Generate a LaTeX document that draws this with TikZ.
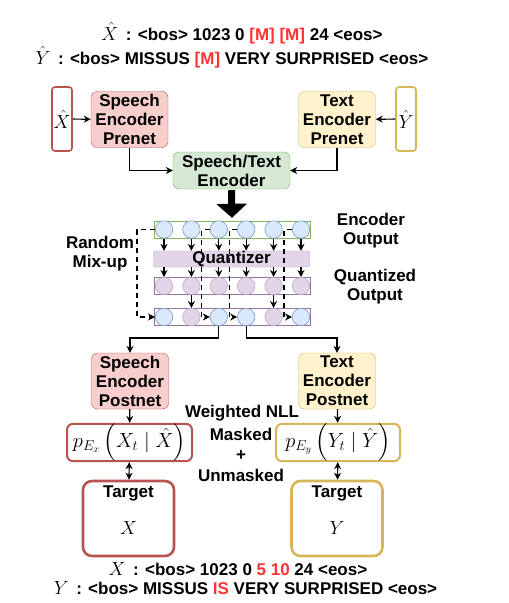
\RequirePackage{fix-cm}
\documentclass[tikz,border=0pt]{standalone}
\usepackage{amsmath}
\usepackage{fontspec}
\setmainfont{Liberation Sans}
\usetikzlibrary{positioning,arrows.meta}

\definecolor{redfill}{HTML}{F8CECC}
\definecolor{redline}{HTML}{B85450}
\definecolor{yelfill}{HTML}{FFF2CC}
\definecolor{yelline}{HTML}{D6B656}
\definecolor{grnfill}{HTML}{D5E8D4}
\definecolor{grnline}{HTML}{82B366}
\definecolor{blufill}{HTML}{DAE8FC}
\definecolor{bluline}{HTML}{6C8EBF}
\definecolor{purfill}{HTML}{E1D5E7}
\definecolor{purline}{HTML}{9673A6}
\definecolor{tokred}{HTML}{FF3333}

\newcommand{\mathbig}[1]{{\fontsize{19}{22}\selectfont$#1$}}
\newcommand{\mathprob}[1]{{\fontsize{20.5}{24}\selectfont$#1$}}

\tikzset{
  lbl/.style={font=\bfseries\fontsize{17}{19}\selectfont},
  block/.style={lbl, draw, rounded corners=6pt, align=center, minimum width=77pt,
    minimum height=56pt, inner sep=1pt},
  inbox/.style={draw, rounded corners=3pt, line width=1.6pt, minimum width=20pt,
    minimum height=64pt, inner sep=0pt},
  rowbox/.style={draw, minimum width=156pt, minimum height=17pt, inner sep=0pt},
  cblue/.style={circle, draw=bluline, fill=blufill, minimum size=17.5pt, inner sep=0pt, line width=0.5pt},
  cpurple/.style={circle, draw=purline!70, fill=purfill, minimum size=17.5pt, inner sep=0pt, line width=0.5pt},
  probbox/.style={draw, rounded corners=6pt, line width=2pt, minimum height=33pt, inner sep=0pt},
  targetbox/.style={draw, rounded corners=9pt, line width=2.6pt, minimum width=91pt, minimum height=75pt},
  conn/.style={line width=1.2pt, ->},
  mixline/.style={conn, dash pattern=on 5pt off 4pt},
}

\begin{document}
\begin{tikzpicture}[x=1pt, y=-1pt, >={Stealth[length=7pt,width=7pt]}]
\useasboundingbox (0,0) rectangle (509,603);

% masked inputs
\node[lbl] (xin) at (242,33) {\mathbig{\hat{X}}\, : <bos> 1023 0 \textcolor{tokred}{[M] [M]} 24 <eos>};
\node[lbl] (yin) at (232,57) {\mathbig{\hat{Y}}\, : <bos> MISSUS \textcolor{tokred}{[M]} VERY SURPRISED <eos>};

% prenets
\node[inbox, draw=redline] (xhat) at (62,119) {\mathbig{\hat{X}}};
\node[block, fill=redfill, draw=redline] (spre) at (129.5,119.5) {Speech\\Encoder\\Prenet};
\node[block, fill=yelfill, draw=yelline] (tpre) at (337,119.5) {Text\\Encoder\\Prenet};
\node[inbox, draw=yelline] (yhat) at (406,119) {\mathbig{\hat{Y}}};
\node[block, fill=grnfill, draw=grnline, minimum width=117pt, minimum height=37pt] (enc) at (231.5,170.5) {Speech/Text\\Encoder};

\draw[conn] (xhat) -- (spre);
\draw[conn] (yhat) -- (tpre);
\draw[conn] (spre.south) |- (enc.west);
\draw[conn] (tpre.south) |- (enc.east);

% rows of units
\node[rowbox, draw=grnline] (eo) at (232,229.5) {};
\node[lbl, rowbox, draw=purline!70, fill=purfill, minimum height=16pt, rounded corners=2pt] (quant) at (231.5,259) {Quantizer};
\node[rowbox, draw=purline, line width=0.8pt] (qo) at (232,286) {};
\node[rowbox, draw=purline, line width=0.8pt] (mo) at (232,317) {};

\draw[line width=7pt, -{Triangle[width=30pt,length=14pt]}] ([yshift=-1pt]enc.south) -- ([yshift=3pt]eo.north);

\foreach \i in {1,...,6} {
  \node[cblue] (e\i) at (136.6+27.4*\i,229.5) {};
  \node[cpurple] (q\i) at (136.6+27.4*\i,286) {};
  \draw[conn] (e\i.south) -- (e\i.south |- quant.north);
  \draw[conn] (q\i |- quant.south) -- (q\i.north);
}
\foreach \i/\c in {1/cblue,2/cpurple,3/cblue,4/cblue,5/cpurple,6/cblue}
  \node[\c] (m\i) at (136.6+27.4*\i,317) {};

\draw[conn] (q2.south) -- (m2.north);
\draw[conn] (q5.south) -- (m5.north);

% random mix-up
\foreach \i/\d in {1/18,3/8,4/8,6/8}
  \draw[mixline] (e\i.west) -- ++(-\d,0) |- (m\i.west);
\node[lbl, align=center] (mix) at (100,254) {Random\\Mix-up};
\node[lbl, align=center] (eolbl) at (371,231) {Encoder\\Output};
\node[lbl, align=center] (qolbl) at (375,287) {Quantized\\Output};

% postnets
\node[block, fill=redfill, draw=redline] (spost) at (130,381) {Speech\\Encoder\\Postnet};
\node[block, fill=yelfill, draw=yelline] (tpost) at (337,381) {Text\\Encoder\\Postnet};
\draw[conn] (m3.south) -- ++(0,12) -| (spost.north);
\draw[conn] (m4.south) -- ++(0,12) -| (tpost.north);

\node[probbox, draw=redline, minimum width=125pt] (px) at (129.5,442.5) {\mathprob{p_{E_x}\left(X_t \mid \hat{X}\right)}};
\node[probbox, draw=yelline, minimum width=124pt] (py) at (338,442.5) {\mathprob{p_{E_y}\left(Y_t \mid \hat{Y}\right)}};
\draw[conn] (spost) -- (px);
\draw[conn] (tpost) -- (py);

\node[lbl] (nll) at (242,413.5) {Weighted NLL};
\node[lbl, align=center, font=\bfseries\fontsize{17}{20.5}\selectfont] (loss) at (241,454.5) {Masked\\+\\Unmasked};

% targets
\node[targetbox, draw=redline] (tx) at (128.5,518.5) {};
\node[targetbox, draw=yelline] (ty) at (337,518.5) {};
\node[lbl, inner sep=0pt, below=6pt of tx.north] (txlbl) {Target};
\node[lbl, inner sep=0pt, below=6pt of ty.north] (tylbl) {Target};
\node (txvar) at ([yshift=-10pt]tx.center) {\mathbig{X}};
\node (tyvar) at ([yshift=-10pt]ty.center) {\mathbig{Y}};
\draw[conn, <->] (px) -- (tx);
\draw[conn, <->] (py) -- (ty);

% unmasked outputs
\node[lbl] (xout) at (238,569) {\mathbig{X}\, : <bos> 1023 0 \textcolor{tokred}{5 10} 24 <eos>};
\node[lbl] (yout) at (245.5,588) {\mathbig{Y}\, : <bos> MISSUS \textcolor{tokred}{IS} VERY SURPRISED <eos>};
\end{tikzpicture}
\end{document}
